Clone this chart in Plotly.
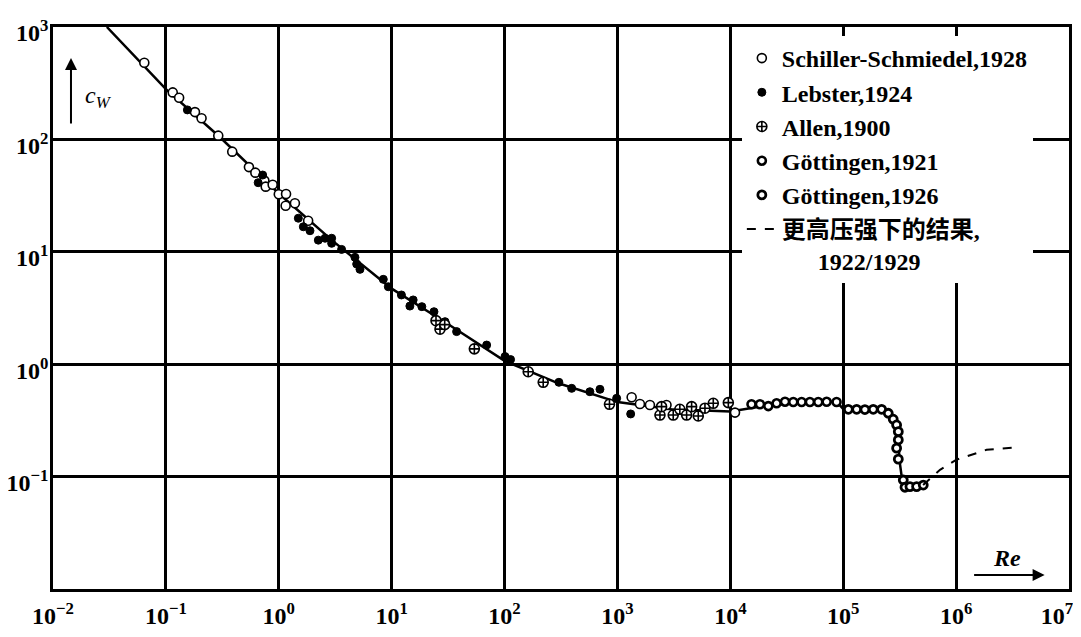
import plotly.graph_objects as go

# ---------------- data ----------------
curve_re = [0.030, 0.1, 0.3, 1, 3, 10, 30, 100, 300, 1000, 3000, 1e4, 2e4, 4e4, 8.7e4,
            1.0e5, 1.5e5, 2.25e5, 2.77e5, 3.08e5, 3.14e5, 3.3e5, 3.65e5, 4.2e5, 5.1e5]
curve_cw = [1000, 280, 105, 33, 12.5, 4.7, 2.35, 1.07, 0.676, 0.46, 0.397, 0.38, 0.425, 0.455, 0.465,
            0.40, 0.397, 0.397, 0.343, 0.263, 0.143, 0.099, 0.0815, 0.081, 0.084]

dash_re = [5.1e5, 7.2e5, 1.0e6, 1.86e6, 3.47e6]
dash_cw = [0.084, 0.115, 0.141, 0.173, 0.182]

schiller_re = [0.0644, 0.115, 0.131, 0.181, 0.207, 0.291, 0.387, 0.544, 0.620, 0.745, 0.766, 0.883,
               1.00, 1.16, 1.15, 1.39, 1.82, 1336, 1582, 1940, 2720, 11000]
schiller_cw = [481, 262, 235, 175, 154, 108, 77.8, 56.7, 50.6, 43.0, 38.0, 39.5,
               32.5, 32.7, 25.7, 27.0, 18.9, 0.508, 0.443, 0.434, 0.434, 0.371]

lebster_re = [0.155, 0.657, 0.72, 1.49, 1.65, 1.89, 2.24, 2.57, 2.94, 2.94, 3.60, 4.73, 4.90, 5.24,
              8.43, 9.34, 12.2, 14.5, 15.5, 18.5, 23.7, 29.7, 37.6, 69.4, 101, 113, 303, 393, 570,
              700, 984, 1310]
lebster_cw = [183, 41.2, 48.2, 19.9, 16.7, 15.4, 12.7, 13.2, 13.2, 11.9, 10.5, 8.93, 7.78, 6.98,
              5.69, 4.89, 4.13, 3.29, 3.73, 3.25, 2.93, 2.39, 1.95, 1.48, 1.17, 1.10, 0.690, 0.610, 0.569,
              0.598, 0.497, 0.361]

allen_re = [24.7, 26.8, 29.5, 54.0, 162, 220, 850, 2380, 2460, 3120, 3570, 4100, 4540, 5200, 5960,
            7060, 9600]
allen_cw = [2.44, 2.05, 2.25, 1.37, 0.857, 0.690, 0.44, 0.353, 0.419, 0.353, 0.397, 0.353, 0.419,
            0.346, 0.406, 0.449, 0.455]

gott21_re = [15400, 18300, 21700, 25700, 30500, 36100, 42800, 50700, 60100, 71300, 87300]
gott21_cw = [0.440, 0.440, 0.424, 0.449, 0.464, 0.461, 0.461, 0.461, 0.461, 0.463, 0.461]

gott26_re = [111000, 131500, 155600, 184500, 218800, 250600, 277300, 297200, 307600, 307600,
             297200, 307600, 340400, 352400, 390000, 446700, 511700]
gott26_cw = [0.397, 0.397, 0.395, 0.397, 0.397, 0.366, 0.324, 0.288, 0.251, 0.212,
             0.179, 0.143, 0.0933, 0.0804, 0.0815, 0.0815, 0.0841]

x_exps = list(range(-2, 8))
y_exps = list(range(-1, 4))


def power_label(k):
    return f"10<sup>{'−' + str(-k) if k < 0 else k}</sup>"


x_ticktext = [power_label(k) for k in x_exps]
x_ticktext[-1] = x_ticktext[-1] + "\u2002\u2002"   # last label sits left of the border, as in the reference
y_ticktext = [power_label(k) for k in y_exps]

SERIF = "Liberation Serif, Times New Roman, Times, serif"
SERIF_CJK = "Liberation Serif, Times New Roman, Times, Noto Sans CJK SC, serif"

fig = go.Figure()

fig.add_trace(go.Scatter(x=curve_re, y=curve_cw, mode="lines",
                         line=dict(color="black", width=2.5), showlegend=False, hoverinfo="skip"))

fig.add_trace(go.Scatter(x=schiller_re, y=schiller_cw, mode="markers", name="Schiller-Schmiedel,1928",
                         marker=dict(symbol="circle", size=9, color="white",
                                     line=dict(color="black", width=1.6))))
fig.add_trace(go.Scatter(x=lebster_re, y=lebster_cw, mode="markers", name="Lebster,1924",
                         marker=dict(symbol="circle", size=8, color="black",
                                     line=dict(color="black", width=1))))
fig.add_trace(go.Scatter(x=allen_re, y=allen_cw, mode="markers", name="Allen,1900",
                         marker=dict(symbol="circle-cross", size=10, color="white",
                                     line=dict(color="black", width=1.6))))
fig.add_trace(go.Scatter(x=gott21_re, y=gott21_cw, mode="markers", name="Göttingen,1921",
                         marker=dict(symbol="circle", size=8, color="white",
                                     line=dict(color="black", width=2.6))))
fig.add_trace(go.Scatter(x=gott26_re, y=gott26_cw, mode="markers", name="Göttingen,1926",
                         marker=dict(symbol="circle", size=8, color="white",
                                     line=dict(color="black", width=2.8))))
fig.add_trace(go.Scatter(x=dash_re, y=dash_cw, mode="lines",
                         name="更高压强下的结果,<br>\u2002\u2002\u20021922/1929",
                         line=dict(color="black", width=2, dash="dash")))

axis_common = dict(
    type="log", showgrid=True, gridcolor="black", gridwidth=2.6,
    showline=True, linecolor="black", linewidth=2.6, mirror=True,
    ticks="", zeroline=False, automargin=False, ticklabeloverflow="allow",
    tickfont=dict(family=SERIF, size=24, color="black", weight="bold"),
)

fig.update_xaxes(range=[-2, 7], tickvals=[10.0 ** k for k in x_exps], ticktext=x_ticktext,
                 ticklabelstandoff=3, **axis_common)
fig.update_yaxes(range=[-2, 3], tickvals=[10.0 ** k for k in y_exps], ticktext=y_ticktext,
                 ticklabelstandoff=-3, ticklabelshift=6, **axis_common)

# the page adds an 8px body margin, so margins are shifted to keep the plot area at 53..1069 x 27..589
fig.update_layout(
    width=1081, height=637,
    margin=dict(l=45, r=20, t=19, b=56),
    paper_bgcolor="white", plot_bgcolor="white",
    legend=dict(x=0.678, y=0.984, xanchor="left", yanchor="top", bgcolor="white",
                borderwidth=0, valign="top",
                font=dict(family=SERIF_CJK, size=24, color="black", weight="bold")),
    annotations=[
        dict(xref="paper", yref="paper", x=0.0295, y=0.875, xanchor="left", yanchor="middle",
             text="<i>c</i><sub><i>W</i></sub>", showarrow=False,
             font=dict(family=SERIF, size=24, color="black")),
        dict(xref="paper", yref="paper", x=0.0177, y=0.945, text="", showarrow=True,
             ax=0, ay=67, arrowhead=2, arrowsize=1.2, arrowwidth=2, arrowcolor="black"),
        dict(xref="paper", yref="paper", x=0.939, y=0.0552, xanchor="center", yanchor="middle",
             text="<i>Re</i>", showarrow=False,
             font=dict(family=SERIF, size=24, color="black", weight="bold")),
        dict(xref="paper", yref="paper", x=0.976, y=0.0249, text="", showarrow=True,
             ax=-72, ay=0, arrowhead=2, arrowsize=1.2, arrowwidth=2, arrowcolor="black"),
    ],
)

fig.write_html("out.html")
